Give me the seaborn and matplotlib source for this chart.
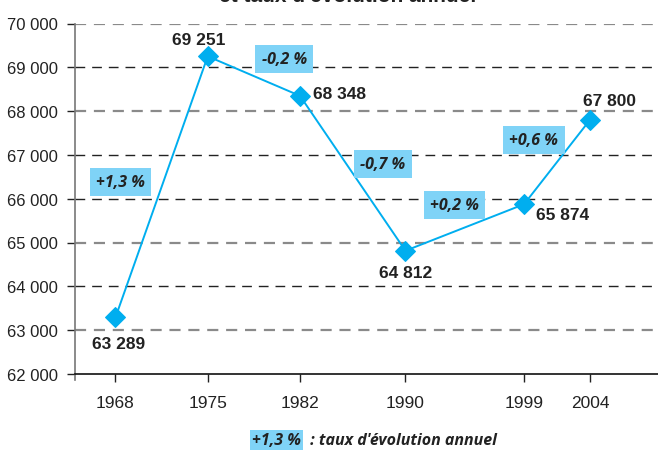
import matplotlib
matplotlib.use("Agg")
import matplotlib.pyplot as plt
import seaborn as sns
import pandas as pd

years = [1968, 1975, 1982, 1990, 1999, 2004]
population = [63289, 69251, 68348, 64812, 65874, 67800]
value_labels = ["63 289", "69 251", "68 348", "64 812", "65 874", "67 800"]
rate_labels = ["+1,3 %", "-0,2 %", "-0,7 %", "+0,2 %", "+0,6 %"]
y_ticks = [62000, 63000, 64000, 65000, 66000, 67000, 68000, 69000, 70000]
y_tick_labels = ["62 000", "63 000", "64 000", "65 000", "66 000", "67 000", "68 000", "69 000", "70 000"]
title_text = "et taux d'évolution annuel"
legend_text = " : taux d'évolution annuel"

# layout (data-coordinate placements of annotations)
value_pos = [(1968.2, 62700), (1974.3, 69630), (1985.0, 68400), (1990.0, 64310), (2001.9, 65640), (2005.5, 68240)]
rate_pos = [(1968.4, 66380), (1980.8, 69190), (1988.3, 66800), (1993.7, 65860), (1999.75, 67350)]
grid_gray = {70000, 68000, 65000, 63000}

sns.set_style("white")
plt.rcParams["font.family"] = ["Liberation Sans", "DejaVu Sans"]
italic_fam = ["Open Sans", "DejaVu Sans"]

fig = plt.figure(figsize=(6.58, 4.52), dpi=100)
ax = fig.add_axes([75 / 658, (452 - 374.9) / 452, 1 - 75 / 658, 350.4 / 452])

df = pd.DataFrame({"year": years, "pop": population})

for yv in y_ticks[1:]:
    if yv in grid_gray:
        ax.axhline(yv, color="#8a8a8a", lw=1.6, dashes=(5, 3.5), zorder=1)
    else:
        ax.axhline(yv, color="#222222", lw=1.0, dashes=(7, 5), zorder=1)

sns.lineplot(data=df, x="year", y="pop", ax=ax, color="#00aeef", lw=1.4,
             marker="D", markersize=10, markeredgecolor="#00aeef", zorder=3)

ax.set_xlim(1964.93, 2009.16)
ax.set_ylim(62000, 70000)
ax.set_xticks(years)
ax.set_xticklabels([str(y) for y in years], fontsize=12.5, color="#222222")
ax.set_yticks(y_ticks)
ax.set_yticklabels(y_tick_labels, fontsize=12, color="#222222")
ax.set_xlabel("")
ax.set_ylabel("")
ax.tick_params(axis="y", length=6, width=1, color="#222222", pad=6, direction="out", left=True)
ax.tick_params(axis="x", length=6, width=1, color="#222222", pad=9, direction="out", bottom=True)

for s in ["top", "right"]:
    ax.spines[s].set_visible(False)
ax.spines["left"].set_color("#777777")
ax.spines["left"].set_linewidth(1.2)
ax.spines["bottom"].set_color("#111111")
ax.spines["bottom"].set_linewidth(1.2)
ax.spines["left"].set_bounds(61870, 70000)

for (x, y), t in zip(value_pos, value_labels):
    ax.text(x, y, t, ha="center", va="center", fontsize=12.5, fontweight="bold",
            color="#222222", zorder=4)

box = dict(boxstyle="square,pad=0.38", fc="#7fd3f7", ec="none")
for (x, y), t in zip(rate_pos, rate_labels):
    ax.text(x, y, t, ha="center", va="center", fontsize=11.5, fontweight="bold",
            style="italic", family=italic_fam, color="#222222",
            bbox=box, zorder=4)

# legend
fig.text(252 / 658, 1 - 441 / 452, "+1,3 %", ha="left", va="center", fontsize=11.5,
         fontweight="bold", style="italic", family=italic_fam,
         color="#222222", bbox=dict(boxstyle="square,pad=0.12", fc="#7fd3f7", ec="none"))
fig.text(306 / 658, 1 - 441 / 452, legend_text, ha="left", va="center", fontsize=11.5,
         fontweight="bold", style="italic", family=italic_fam,
         color="#222222")

# clipped title (cut at the top edge, as in the reference)
fig.text(348 / 658, 1 - (-3) / 452, title_text, ha="center", va="center", fontsize=15,
         fontweight="bold", color="#222222")

fig.savefig("out.png", dpi=100)
